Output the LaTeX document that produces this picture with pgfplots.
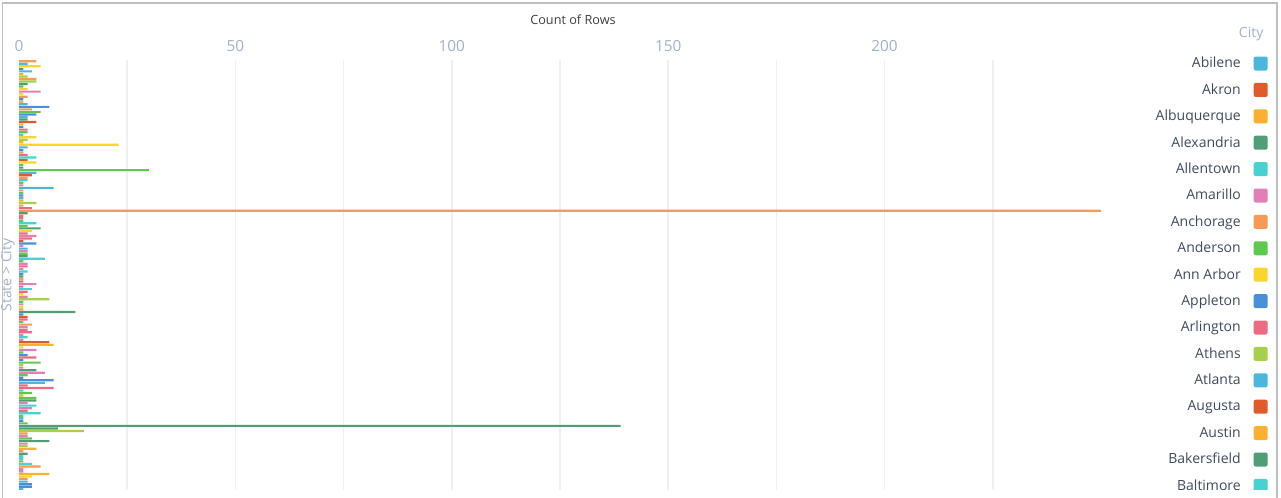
\documentclass[border=0pt]{standalone}
\usepackage{pgfplots}
\usepackage{pgfplotstable}
\pgfplotsset{compat=1.18}
\usepackage{fontspec}
\setmainfont{Open Sans}
\definecolor{c0}{HTML}{4BB7DC}
\definecolor{c1}{HTML}{E15A2A}
\definecolor{c2}{HTML}{FDB02F}
\definecolor{c3}{HTML}{4F9E76}
\definecolor{c4}{HTML}{48D1D1}
\definecolor{c5}{HTML}{E27FB4}
\definecolor{c6}{HTML}{F89A56}
\definecolor{c7}{HTML}{5DC94E}
\definecolor{c8}{HTML}{F9D52E}
\definecolor{c9}{HTML}{4A8FDC}
\definecolor{c10}{HTML}{EB6B80}
\definecolor{c11}{HTML}{A6CF4A}
\definecolor{lightlab}{HTML}{9FB1C8}
\definecolor{legtext}{HTML}{3E4A5C}
\definecolor{titletext}{HTML}{3E3E3C}
\definecolor{gridc}{HTML}{EEF0F5}
\pgfplotstableread{
i v c
1 4 6
2 2 0
3 5 8
4 1 3
5 3 0
6 1 2
7 2 11
8 4 6
9 4 11
10 2 3
11 1 7
12 2 8
13 5 5
14 1 8
15 2 6
16 1 9
17 1 2
18 2 0
19 7 9
20 3 6
21 5 7
22 4 9
23 2 0
24 2 3
25 4 1
26 1 2
27 1 9
28 2 10
29 2 7
30 1 4
31 4 8
32 2 11
33 1 2
34 23 8
35 2 0
36 1 9
37 1 6
38 2 10
39 4 4
40 2 1
41 4 8
42 1 7
43 1 3
44 30 7
45 4 0
46 3 1
47 2 6
48 2 4
49 1 7
50 1 5
51 8 0
52 1 6
53 1 7
54 1 9
55 1 0
56 1 2
57 4 11
58 1 6
59 3 10
60 250 6
61 2 3
62 1 10
63 1 10
64 1 7
65 4 4
66 2 7
67 5 3
68 3 8
69 2 10
70 4 5
71 3 10
72 1 1
73 4 9
74 1 5
75 2 0
76 2 5
77 2 7
78 2 3
79 6 4
80 1 7
81 2 5
82 2 10
83 1 5
84 2 4
85 1 9
86 1 3
87 1 6
88 1 10
89 4 5
90 1 10
91 3 4
92 2 10
93 1 8
94 2 5
95 7 11
96 1 7
97 1 5
98 1 8
99 1 6
100 13 3
101 1 9
102 2 1
103 2 10
104 1 7
105 3 6
106 2 5
107 2 10
108 3 10
109 1 5
110 2 4
111 1 5
112 7 1
113 8 2
114 1 8
115 4 5
116 1 7
117 2 9
118 4 10
119 1 9
120 5 7
121 1 11
122 1 5
123 4 3
124 6 5
125 2 7
126 1 9
127 8 9
128 6 0
129 2 10
130 8 10
131 1 4
132 3 7
133 1 11
134 4 7
135 4 3
136 2 5
137 4 4
138 3 5
139 2 10
140 5 4
141 1 7
142 1 0
143 1 9
144 2 7
145 139 3
146 9 3
147 15 11
148 2 6
149 2 5
150 3 7
151 7 3
152 2 5
153 2 11
154 4 2
155 1 6
156 2 3
157 1 4
158 1 4
159 1 7
160 3 4
161 5 6
162 1 5
163 1 5
164 7 2
165 3 8
166 2 6
167 2 0
168 3 9
169 3 9
170 1 0
171 11 1
}\bars
\begin{document}
\begin{tikzpicture}
\begin{scope}
\clip (0pt,6pt) rectangle (960.75pt,373.5pt);
\begin{axis}[
  at={(14.25pt,3.75pt)}, anchor=south west,
  scale only axis, width=811.5pt, height=324.75pt,
  xmin=0, xmax=250, ymin=0.5, ymax=171.5, y dir=reverse,
  axis line style={draw=none}, tick style={draw=none},
  ytick=\empty,
  xtick={25,50,...,225},
  xticklabels={,50,,100,,150,,200,},
  extra x ticks={0}, extra x tick labels={0},
  extra x tick style={grid=none},
  xticklabel pos=right,
  /pgf/number format/assume math mode=true,
  xticklabel style={font=\fontsize{11.5}{13}\selectfont, text=lightlab, yshift=2.5pt},
  xmajorgrids, grid style={color=gridc, line width=1.1pt},
  legend plot pos=right,
  legend cell align=right,
  legend image code/.code={\path (0pt,0pt); \fill[#1, draw=none, rounded corners=1.5pt] (8.5pt,-5.25pt) rectangle (19pt,5.25pt);},
  legend style={at={(1.1543,1.023)}, anchor=north east, draw=none, fill=none,
    inner sep=0pt, row sep=0pt, column sep=1pt,
    font=\fontsize{10.5}{12}\selectfont, text=legtext,
    nodes={inner sep=0pt, minimum height=19.8pt}},
]
\pgfplotsinvokeforeach{0,...,11}{
  \addplot[xbar, bar shift=0pt, bar width=0.86, fill=c#1, draw=none, forget plot]
    table[x=v, y=i, restrict expr to domain={\thisrow{c}}{#1:#1}] {\bars};
}
\addlegendimage{fill=c0}\addlegendentry{Abilene}
\addlegendimage{fill=c1}\addlegendentry{Akron}
\addlegendimage{fill=c2}\addlegendentry{Albuquerque}
\addlegendimage{fill=c3}\addlegendentry{Alexandria}
\addlegendimage{fill=c4}\addlegendentry{Allentown}
\addlegendimage{fill=c5}\addlegendentry{Amarillo}
\addlegendimage{fill=c6}\addlegendentry{Anchorage}
\addlegendimage{fill=c7}\addlegendentry{Anderson}
\addlegendimage{fill=c8}\addlegendentry{Ann Arbor}
\addlegendimage{fill=c9}\addlegendentry{Appleton}
\addlegendimage{fill=c10}\addlegendentry{Arlington}
\addlegendimage{fill=c11}\addlegendentry{Athens}
\addlegendimage{fill=c0}\addlegendentry{Atlanta}
\addlegendimage{fill=c1}\addlegendentry{Augusta}
\addlegendimage{fill=c2}\addlegendentry{Austin}
\addlegendimage{fill=c3}\addlegendentry{Bakersfield}
\addlegendimage{fill=c4}\addlegendentry{Baltimore}
\end{axis}
\node[font=\fontsize{9.5}{11}\selectfont, text=titletext] at (429.75pt,358.5pt) {Count of Rows};
\node[font=\fontsize{10.5}{12}\selectfont, text=lightlab, anchor=east] at (951pt,348pt) {City};
\node[font=\fontsize{10.5}{12}\selectfont, text=lightlab, rotate=90] at (6pt,167.25pt) {State > City};
\end{scope}
\draw[color=black!25, line width=1pt] (2pt,0pt) -- (2pt,371.25pt) -- (957.75pt,371.25pt) -- (957.75pt,0pt);
\pgfresetboundingbox
\useasboundingbox (0pt,0pt) rectangle (960.75pt,373.5pt);
\end{tikzpicture}
\end{document}
